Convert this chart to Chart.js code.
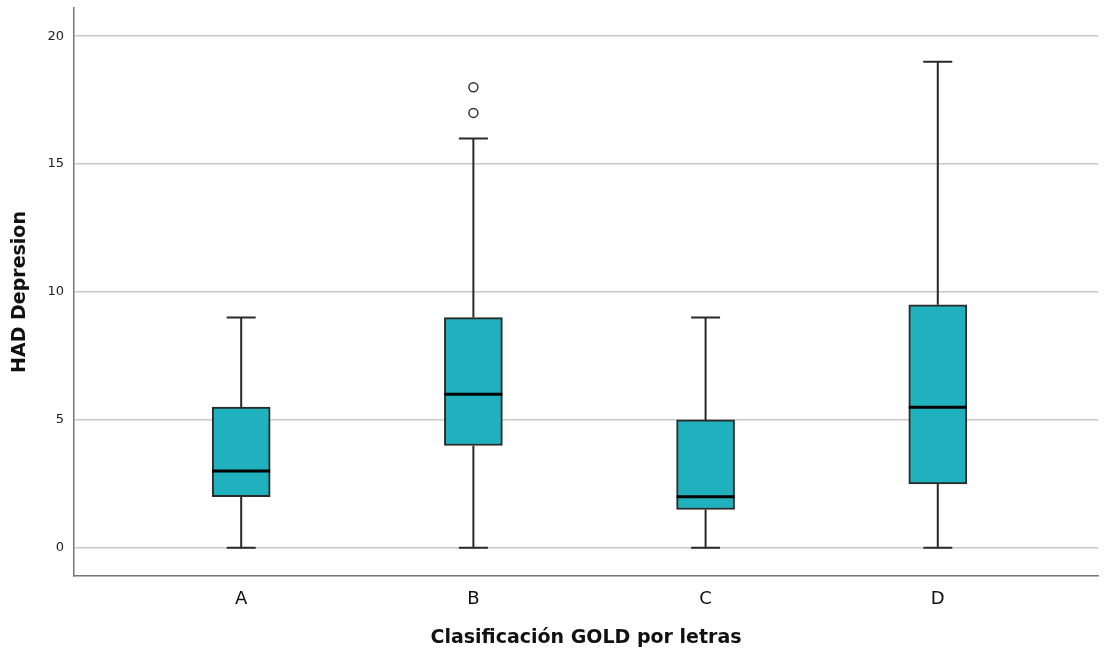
<!DOCTYPE html>
<html>
<head>
<meta charset="utf-8">
<script src="https://cdn.jsdelivr.net/npm/chart.js@4"></script>
<style>
  html, body { margin: 0; padding: 0; background: #fff; }
  #wrap { width: 1104px; height: 655px; }
</style>
</head>
<body>
<div id="wrap"><canvas id="chart"></canvas></div>
<script>
// boxplot values
const categories = ["A", "B", "C", "D"];
const whiskerLow = [0, 0, 0, 0];
const q1 = [2, 4, 1.5, 2.5];
const median = [3, 6, 2, 5.5];
const q3 = [5.5, 9, 5, 9.5];
const whiskerHigh = [9, 16, 9, 19];
const outliers = [
  { cat: 1, value: 17 },
  { cat: 1, value: 18 },
];
const yTicks = [0, 5, 10, 15, 20];

const boxColor = "#1fb1be";
const lineColor = "#2a2a2a";

// whiskers, caps and medians, drawn through the chart's scales
const whiskerPlugin = {
  id: "whiskers",
  afterDatasetsDraw(chart) {
    const { ctx, scales } = chart;
    const x = scales.x, y = scales.y;
    const meta = chart.getDatasetMeta(0);
    ctx.save();
    categories.forEach((c, i) => {
      const bar = meta.data[i];
      const cx = x.getPixelForValue(i);
      const half = bar.width / 2;
      const capHalf = half / 2;
      ctx.strokeStyle = lineColor;
      ctx.lineWidth = 2;
      ctx.beginPath();
      ctx.moveTo(cx, y.getPixelForValue(whiskerLow[i]));
      ctx.lineTo(cx, y.getPixelForValue(q1[i]));
      ctx.moveTo(cx, y.getPixelForValue(q3[i]));
      ctx.lineTo(cx, y.getPixelForValue(whiskerHigh[i]));
      ctx.moveTo(cx - capHalf, y.getPixelForValue(whiskerLow[i]));
      ctx.lineTo(cx + capHalf, y.getPixelForValue(whiskerLow[i]));
      ctx.moveTo(cx - capHalf, y.getPixelForValue(whiskerHigh[i]));
      ctx.lineTo(cx + capHalf, y.getPixelForValue(whiskerHigh[i]));
      ctx.stroke();
      ctx.strokeStyle = "#000";
      ctx.lineWidth = 3;
      ctx.beginPath();
      ctx.moveTo(cx - half, y.getPixelForValue(median[i]));
      ctx.lineTo(cx + half, y.getPixelForValue(median[i]));
      ctx.stroke();
    });
    ctx.restore();
  },
};

new Chart(document.getElementById("chart"), {
  data: {
    datasets: [
      {
        type: "bar",
        data: categories.map((c, i) => ({ x: i, y: [q1[i], q3[i]] })),
        backgroundColor: boxColor,
        borderColor: lineColor,
        borderWidth: 2,
        borderSkipped: false,
        barThickness: 58,
        order: 2,
      },
      {
        type: "scatter",
        data: outliers.map((o) => ({ x: o.cat, y: o.value })),
        pointStyle: "circle",
        pointRadius: 4.5,
        pointBackgroundColor: "#fff",
        pointBorderColor: "#333",
        pointBorderWidth: 1.5,
        order: 1,
      },
    ],
  },
  options: {
    responsive: true,
    maintainAspectRatio: false,
    animation: false,
    layout: { padding: 0 },
    plugins: { legend: { display: false }, tooltip: { enabled: false } },
    scales: {
      x: {
        type: "linear",
        offset: false,
        min: -0.72,
        max: 3.69,
        afterBuildTicks: (s) => { s.ticks = categories.map((c, i) => ({ value: i })); },
        afterFit: (s) => { s.height = 79; s.paddingRight = 0; s.paddingLeft = 0; },
        grid: { display: false },
        border: { display: true, color: "#777", width: 1.5 },
        ticks: {
          callback: (v) => categories[v],
          color: "#111",
          font: { family: "DejaVu Sans", size: 18 },
          padding: 5,
          maxRotation: 0,
        },
        title: {
          display: true,
          text: "Clasificación GOLD por letras",
          color: "#111",
          font: { family: "DejaVu Sans", size: 19, weight: "bold" },
          padding: { top: 15, bottom: 6 },
        },
      },
      y: {
        min: -1.1,
        max: 21.1,
        afterBuildTicks: (s) => { s.ticks = yTicks.map((v) => ({ value: v })); },
        afterFit: (s) => { s.width = 74; s.paddingTop = 8; s.paddingBottom = 0; },
        grid: { color: "#c8c8c8", lineWidth: 1.5, drawTicks: false },
        border: { display: true, color: "#777", width: 1.5 },
        ticks: {
          color: "#222",
          font: { family: "DejaVu Sans", size: 13 },
          padding: 10,
        },
        title: {
          display: true,
          text: "HAD Depresion",
          color: "#111",
          font: { family: "DejaVu Sans", size: 19, weight: "bold" },
          padding: { top: 9, bottom: 0 },
        },
      },
    },
  },
  plugins: [whiskerPlugin],
});
</script>
</body>
</html>
